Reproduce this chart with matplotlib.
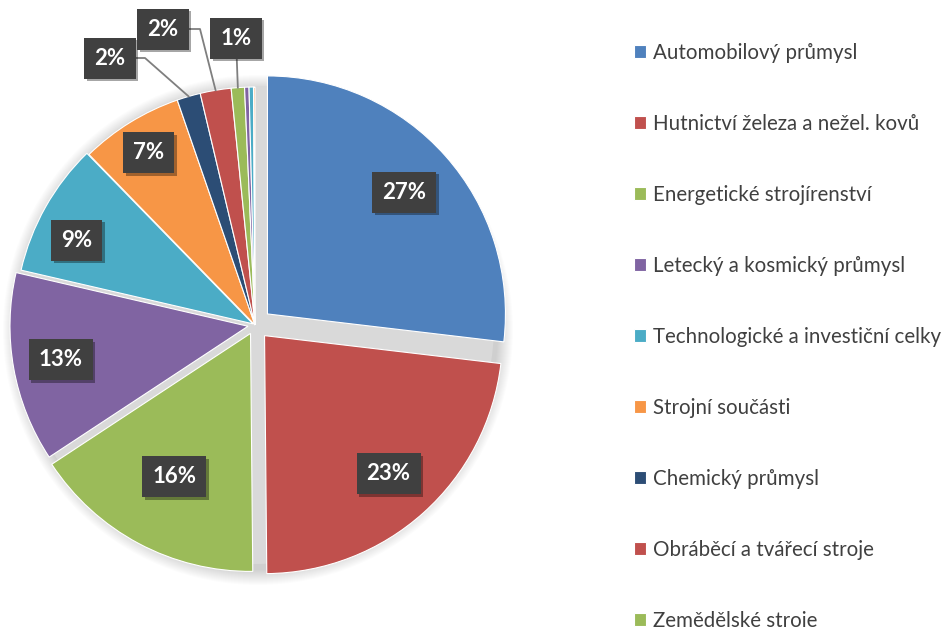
import matplotlib
matplotlib.use("Agg")
import matplotlib.pyplot as plt
import matplotlib.patheffects as pe
from matplotlib.patches import Circle
import numpy as np

plt.rcParams['font.family'] = ['Lato', 'DejaVu Sans']

# data (share of each sector, %)
categories = ['Automobilový průmysl', 'Hutnictví železa a nežel. kovů', 'Energetické strojírenství',
              'Letecký a kosmický průmysl', 'Technologické a investiční celky', 'Strojní součásti',
              'Chemický průmysl', 'Obráběcí a tvářecí stroje', 'Zemědělské stroje',
              'Ostatní 1', 'Ostatní 2', 'Ostatní 3']
values = [26.9, 23.0, 15.9, 12.9, 9.1, 7.0, 1.6, 2.1, 0.9, 0.3, 0.3, 0.1]
colors = ['#4F81BD', '#C0504D', '#9BBB59', '#8064A2', '#4BACC6', '#F79646',
          '#2C4D75', '#C0504D', '#9BBB59', '#8064A2', '#4BACC6', '#F79646']
explode = [0.07, 0.06, 0.04, 0.03, 0.01, 0, 0, 0, 0, 0, 0, 0]

W, H = 953, 627
fig = plt.figure(figsize=(W / 100, H / 100), dpi=100)
ax = fig.add_axes([0, 0, 1, 1])

cx, cy, R = 255, 302, 238

# soft shadow behind the pie
for i in range(16):
    ax.add_patch(Circle((cx + 3, cy - 5), R + 17 - i, color='black', alpha=0.012, lw=0, zorder=0))
ax.add_patch(Circle((cx, cy), R + 1, color='#d9d9d9', lw=0, zorder=1))

wedges, _ = ax.pie(values, colors=colors, explode=[e * R for e in explode], startangle=90,
                   counterclock=False, center=(cx, cy), radius=R, frame=True,
                   wedgeprops=dict(edgecolor='white', linewidth=0.8, zorder=2))

ax.set_xlim(0, W)
ax.set_ylim(0, H)
ax.set_aspect('equal')
ax.axis('off')

pct = np.array(values) / sum(values) * 100
shadow = [pe.SimplePatchShadow(offset=(2, -2), shadow_rgbFace='black', alpha=0.35), pe.Normal()]
box = dict(boxstyle='square,pad=0.45', fc='#404040', ec='none')

# label distance (fraction of radius) and small angle shift for the big slices
label_r = [0.77, 0.78, 0.68, 0.80, 0.82, 0.85]
label_shift = [0, 0, 0, 0, 4, 0]
# callouts for the small slices: box centre, optional elbow
callouts = {6: ((110, 569), (145, 569)), 7: ((163, 598), (200, 598)), 8: ((236, 589), None)}

for i, w in enumerate(wedges):
    th = np.deg2rad((w.theta1 + w.theta2) / 2)
    wx, wy = w.center
    txt = None
    if i < len(label_r):
        th += np.deg2rad(label_shift[i])
        txt = ax.text(wx + label_r[i] * R * np.cos(th), wy + label_r[i] * R * np.sin(th),
                      f"{pct[i]:.0f}%", ha='center', va='center')
    elif i in callouts:
        (bx, by), elbow = callouts[i]
        rim = (wx + R * np.cos(th), wy + R * np.sin(th))
        pts = [(bx, by)] + ([elbow] if elbow else []) + [rim]
        ax.plot([p[0] for p in pts], [p[1] for p in pts], color='#7f7f7f', lw=1.3, zorder=3)
        txt = ax.text(bx, by, f"{pct[i]:.0f}%", ha='center', va='center')
    if txt is not None:
        txt.set(color='white', fontsize=16, fontweight='bold', bbox=box, zorder=5)
        txt.get_bbox_patch().set_path_effects(shadow)

# only the first nine entries fit in the picture
leg = fig.legend(wedges[:9], categories[:9], loc='upper left', bbox_to_anchor=(634 / W, 1 - 43 / H),
                 frameon=False, fontsize=14.8, borderpad=0, borderaxespad=0,
                 handlelength=0.58, handleheight=0.58, handletextpad=0.34, labelspacing=2.48)
for t in leg.get_texts():
    t.set_color('#404040')

fig.savefig('out.png', dpi=100)
